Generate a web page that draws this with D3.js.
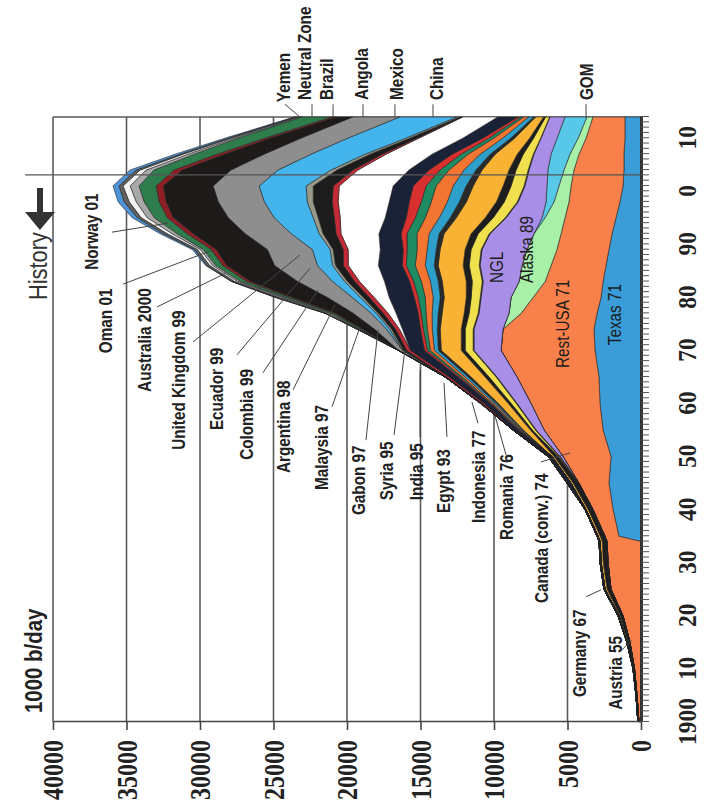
<!DOCTYPE html>
<html>
<head>
<meta charset="utf-8">
<script src="https://cdn.jsdelivr.net/npm/d3@7"></script>
<style>
  body { margin: 0; background: #fff; }
  svg { display: block; }
  .lbl { font-family: "Liberation Sans Narrow", "Arial Narrow", "Liberation Sans", sans-serif; font-weight: bold; font-size: 18px; fill: #222; }
  .inner { font-weight: normal; fill: #1a1a1a; }
  .num { font-family: "Liberation Serif", "Times New Roman", serif; font-weight: bold; fill: #222; }
</style>
</head>
<body>
<div id="chart"></div>
<script>
// sample years along the time axis
const years = [1900,1905,1910,1915,1920,1925,1930,1934,1935,1940,1945,1950,1955,1960,1965,1970,1974,1977,1980,1983,1986,1989,1992,1995,1998,2001,2004,2007,2010,2014];

// production, 1000 b/day, stacked from the base outwards
const texas     = [0,0,0,0,0,0,0,0,1500,1900,2180,2040,2580,2790,2860,3130,3200,2990,2720,2580,2380,2180,1970,1700,1430,1220,1160,1160,1090,1090];
const restUSA   = [140,270,440,750,1220,2040,2240,2310,950,1360,2040,3260,4010,4690,5580,6390,6190,5170,4620,3940,3740,3540,3470,3470,3470,3540,3400,3060,2650,2180];
const alaska    = [0,0,0,0,0,0,0,0,0,0,0,0,0,0,0,0,0,820,1500,1770,1970,2040,1840,1360,1020,820,680,610,540,410];
const gom       = [0,0,0,0,0,0,0,0,0,0,0,0,0,0,0,0,0,0,0,0,0,0,0,200,540,820,1090,1290,1430,1500];
const ngl       = [0,0,0,0,0,0,0,0,0,0,0,200,540,950,1360,1840,1970,2040,2040,2450,2860,3060,2990,2450,1900,1500,1290,1160,1090,1020];
const austria   = [0,0,0,0,0,0,60,60,60,60,60,60,60,60,60,60,60,60,60,60,60,60,60,60,60,60,60,50,30,20];
const germany   = [0,0,0,0,0,0,0,0,0,0,0,70,200,340,480,540,540,610,610,680,680,680,750,820,880,880,820,680,480,270];
const romania   = [70,70,100,140,200,270,270,270,270,270,340,270,140,200,270,270,270,340,340,410,410,410,480,540,540,540,480,410,270,140];
const indonesia = [0,0,0,70,70,140,140,140,140,140,140,140,480,680,950,1360,1430,1500,1500,1630,1700,1700,1840,1970,2040,2040,1840,1500,1020,540];
const egypt     = [0,0,0,0,0,0,0,0,0,0,0,0,70,140,200,200,200,270,270,270,270,270,340,410,480,480,410,340,270,140];
const india     = [0,0,0,0,0,0,0,0,0,0,0,0,70,140,200,270,340,410,480,540,610,610,680,750,820,880,820,680,540,340];
const syria     = [0,0,0,0,0,0,0,0,0,0,0,0,70,140,200,270,340,410,540,610,680,680,820,950,1090,1160,1020,820,610,340];
const gabon     = [0,0,0,0,0,0,0,0,0,0,0,0,70,70,140,200,270,340,480,540,610,680,680,680,680,680,610,480,340,200];
const malaysia  = [0,0,0,0,0,0,0,0,0,0,0,0,70,70,140,200,200,200,270,270,270,270,410,610,820,880,750,610,410,200];
const canada    = [0,0,0,0,70,70,70,70,70,70,200,200,270,410,610,950,1220,1500,1700,1700,1630,1560,1500,1430,1360,1360,1360,1360,1360,1360];
const uk        = [0,0,0,0,0,0,0,0,0,0,0,0,0,0,0,0,200,540,1020,1700,2040,2180,2580,3060,3470,3670,3470,3130,2990,2380];
const argentina = [0,0,0,0,0,0,0,0,0,0,70,70,70,140,200,270,270,340,340,340,340,340,340,410,410,410,340,270,140,70];
const colombia  = [0,0,0,0,0,0,0,0,0,0,0,0,0,70,70,200,270,340,410,480,540,680,880,1090,1290,1360,1090,820,480,140];
const ecuador   = [0,0,0,0,0,0,0,0,0,0,0,0,0,0,0,70,140,140,200,200,200,200,270,340,410,480,410,340,270,200];
const china     = [0,0,0,0,0,0,0,0,0,0,0,0,0,0,0,0,200,340,540,820,1020,1220,1900,2650,2920,3200,3600,3670,3940,3880];
const mexico    = [0,0,0,0,0,0,0,0,0,0,0,0,0,0,0,270,820,1220,1700,2380,2920,3060,3130,3130,3130,3130,3200,3200,3200,3200];
const norway    = [0,0,0,0,0,0,0,0,0,0,0,0,0,0,0,0,820,1220,2380,3200,3260,3470,3540,3740,3540,3400,3330,2720,2110,1160];
const angola    = [0,0,0,0,0,0,0,0,0,0,0,0,0,0,0,0,70,140,200,270,270,340,410,410,480,480,540,480,340,270];
const brazil    = [0,0,0,0,0,0,0,0,0,0,0,0,0,0,0,0,140,200,340,410,480,540,680,880,1020,1160,1360,1560,1840,2040];
const australia = [0,0,0,0,0,0,0,0,0,0,0,0,0,0,0,0,70,140,200,200,200,200,340,480,540,610,540,410,270,140];
const oman      = [0,0,0,0,0,0,0,0,0,0,0,0,0,0,0,0,70,140,200,200,200,200,340,410,480,480,410,340,200,140];
const neutralZone = [0,0,0,0,0,0,0,0,0,0,0,0,0,0,0,0,0,70,200,200,200,200,270,270,340,270,270,200,200,140];
const yemen     = [0,0,0,0,0,0,0,0,0,0,0,0,0,0,0,0,0,0,0,0,70,140,200,340,410,410,410,340,200,70];

const seriesNames = ["Texas","Rest-USA","Alaska","GOM","NGL","Austria","Germany","Romania","Indonesia","Egypt","India","Syria","Gabon","Malaysia","Canada (conv.)","United Kingdom","Argentina","Colombia","Ecuador","China","Mexico","Norway","Angola","Brazil","Australia","Oman","Neutral Zone","Yemen"];
const seriesValues = [texas,restUSA,alaska,gom,ngl,austria,germany,romania,indonesia,egypt,india,syria,gabon,malaysia,canada,uk,argentina,colombia,ecuador,china,mexico,norway,angola,brazil,australia,oman,neutralZone,yemen];
const seriesColors = ["#3b9dd8","#f8804a","#a8f0a8","#58c8e8","#a88ee6","#2b2b2b","#f1e04e","#1e1e1e","#f9b233","#2a2a2a","#2e9fcb","#f27632","#1f8b62","#d8302e","#1a2238","#ffffff","#c22a36","#1c1c1c","#9a9a8a","#44b4ec","#8e8e8e","#1e1a1a","#8e2025","#2f7d4c","#a8a8a8","#f2f2f2","#606060","#4d93d6"];

const valueTicks = [0,5000,10000,15000,20000,25000,30000,35000,40000];

// annotations: text, start year, baseline value, leader from (year, value) to (year, value)
const sideLabels = [
  ["Norway 01", 1985.2, 36940, 1992.3, 35990, 1994.0, 32180],
  ["Oman 01", 1969.5, 35990, 1982.5, 35240, 1988.9, 29180],
  ["Australia 2000", 1962.2, 33330, 1978.2, 32930, 1984.6, 28230],
  ["United Kingdom 99", 1951.3, 31020, 1971.6, 30480, 1988.0, 23200],
  ["Ecuador 99", 1955.0, 28440, 1969.2, 27480, 1985.5, 22520],
  ["Colombia 99", 1949.4, 26400, 1965.8, 25720, 1981.4, 21970],
  ["Argentina 98", 1946.9, 23880, 1962.6, 23670, 1978.6, 20820],
  ["Malaysia 97", 1943.7, 21290, 1959.4, 21020, 1974.4, 19120],
  ["Gabon 97", 1939.0, 18780, 1953.1, 18710, 1973.9, 17890],
  ["Syria 95", 1941.8, 16870, 1954.1, 16800, 1970.1, 16060],
  ["India 95", 1941.8, 14830, 1953.7, 15030, 1966.3, 15030],
  ["Egypt 93", 1939.4, 12990, 1953.7, 13200, 1963.9, 13400],
  ["Indonesia 77", 1937.5, 10610, 1956.3, 11090, 1960.3, 11500],
  ["Romania 76", 1934.3, 8710, 1950.3, 9180, 1957.7, 9930],
  ["Canada (conv.) 74", 1922.4, 6330, 1949.0, 6800, 1950.7, 4830],
  ["Germany 67", 1904.7, 3740, 1923.6, 3740, 1924.9, 2720],
  ["Austria 55", 1902.3, 1290, 1913.6, 1290, 1915.5, 610]
];
// top labels: text, start year, baseline value, tick value at plot edge, tick value at label
const topLabels = [
  ["Yemen", 2016.8, 23880, 23200, 24220],
  ["Neutral Zone", 2017.2, 22450, 22380, 22380],
  ["Brazil", 2017.2, 20950, 20950, 20950],
  ["Angola", 2017.2, 18570, 18910, 18910],
  ["Mexico", 2017.2, 16190, 16740, 16740],
  ["China", 2017.2, 13470, 14150, 14150],
  ["GOM", 2017.2, 3270, 3740, 3740]
];
const innerLabels = [
  ["Texas 71", 1971.0, 1360],
  ["Rest-USA 71", 1966.7, 4900],
  ["Alaska 89", 1982.7, 7350],
  ["NGL", 1982.7, 9390]
];
const historyYear = 2003.1;

const W = 706, H = 812;
const svg = d3.select("#chart").append("svg").attr("width", W).attr("height", H);

// the chart is drawn in normal orientation, then turned a quarter turn
const along = 605, depth = 588;
const g = svg.append("g").attr("transform", "translate(53,722) rotate(-90)");
const x = d3.scaleLinear().domain([1900, 2014]).range([0, along]);
const y = d3.scaleLinear().domain([0, 40000]).range([depth, 0]);

// condensed text: squeeze along the reading direction
const narrow = (yr, val, k) => `translate(${x(yr)},${y(val)}) scale(${k || 0.85},1)`;

// grid lines
g.append("g").selectAll("line").data(valueTicks.slice(1)).join("line")
  .attr("x1", 0).attr("x2", along)
  .attr("y1", d => y(d)).attr("y2", d => y(d))
  .attr("stroke", "#5a5a5a").attr("stroke-width", 1.6);
g.append("line")
  .attr("x1", along).attr("x2", along).attr("y1", y(40000)).attr("y2", y(0))
  .attr("stroke", "#5a5a5a").attr("stroke-width", 1.6);

// stacked areas
const table = years.map((yr, i) => {
  const row = { year: yr };
  seriesNames.forEach((n, k) => { row[n] = seriesValues[k][i]; });
  return row;
});
const layers = d3.stack().keys(seriesNames)(table);
const area = d3.area()
  .x(d => x(d.data.year))
  .y0(d => y(d[0]))
  .y1(d => y(d[1]));
g.append("g").selectAll("path").data(layers).join("path")
  .attr("d", area)
  .attr("fill", (d, i) => seriesColors[i])
  .attr("stroke", "#222").attr("stroke-width", 0.6);

// history line
g.append("line")
  .attr("x1", x(historyYear)).attr("x2", x(historyYear))
  .attr("y1", y(41900)).attr("y2", y(0))
  .attr("stroke", "#555").attr("stroke-width", 1.4);

// value axis (bottom of the picture)
const vAxis = g.append("g")
  .call(d3.axisLeft(y).tickValues(valueTicks).tickSize(8).tickSizeOuter(0).tickPadding(10).tickFormat(d3.format("d")));
vAxis.select(".domain").attr("stroke", "#444").attr("stroke-width", 1.6);
vAxis.selectAll(".tick line").attr("stroke", "#444").attr("stroke-width", 1.6);
vAxis.selectAll("text")
  .attr("class", "num").attr("font-size", 30).attr("dy", "0.33em")
  .attr("textLength", function () { return 12 * this.textContent.length; })
  .attr("lengthAdjust", "spacingAndGlyphs");

// year axis (right side of the picture)
const tAxis = g.append("g").attr("transform", `translate(0,${depth})`)
  .call(d3.axisBottom(x).tickValues(d3.range(1900, 2015)).tickSize(8).tickSizeOuter(0).tickPadding(29)
    .tickFormat(d => d % 10 === 0 ? (d === 1900 ? "1900" : String(d % 100)) : ""));
tAxis.select(".domain").attr("stroke", "#333").attr("stroke-width", 3);
tAxis.selectAll(".tick line").attr("stroke", "#555").attr("stroke-width", 1);
tAxis.selectAll("text")
  .attr("class", "num").attr("font-size", 25)
  .attr("textLength", function () { return 11.7 * this.textContent.length; })
  .attr("lengthAdjust", "spacingAndGlyphs");

// unit and history marker
g.append("text").attr("class", "lbl").style("font-size", "24px")
  .attr("transform", narrow(1901.7, 40750)).text("1000 b/day");
g.append("text").attr("class", "lbl").style("font-weight", "normal").style("fill", "#333").style("font-size", "26px")
  .attr("transform", narrow(1979.5, 40410, 0.84)).text("History");
const arrowPts = [[1992.7, 40890], [1996.1, 41900], [1996.1, 41090], [2000.6, 41090], [2000.6, 40680], [1996.1, 40680], [1996.1, 39860]];
g.append("path")
  .attr("d", "M" + arrowPts.map(p => [x(p[0]), y(p[1])].join(",")).join("L") + "Z")
  .attr("fill", "#333");

// side labels with leader lines
const sideG = g.append("g");
sideG.selectAll("line").data(sideLabels).join("line")
  .attr("x1", d => x(d[3])).attr("y1", d => y(d[4]))
  .attr("x2", d => x(d[5])).attr("y2", d => y(d[6]))
  .attr("stroke", "#444").attr("stroke-width", 1);
sideG.selectAll("text").data(sideLabels).join("text")
  .attr("class", "lbl")
  .attr("transform", d => narrow(d[1], d[2]))
  .text(d => d[0]);

// top labels with short ticks
const topG = g.append("g");
topG.selectAll("line").data(topLabels).join("line")
  .attr("x1", x(2014)).attr("y1", d => y(d[3]))
  .attr("x2", x(2016.4)).attr("y2", d => y(d[4]))
  .attr("stroke", "#444").attr("stroke-width", 1);
topG.selectAll("text").data(topLabels).join("text")
  .attr("class", "lbl")
  .attr("transform", d => narrow(d[1], d[2]))
  .text(d => d[0]);

// labels inside the areas
g.append("g").selectAll("text").data(innerLabels).join("text")
  .attr("class", "lbl inner")
  .attr("transform", d => narrow(d[1], d[2]))
  .text(d => d[0]);
</script>
</body>
</html>
